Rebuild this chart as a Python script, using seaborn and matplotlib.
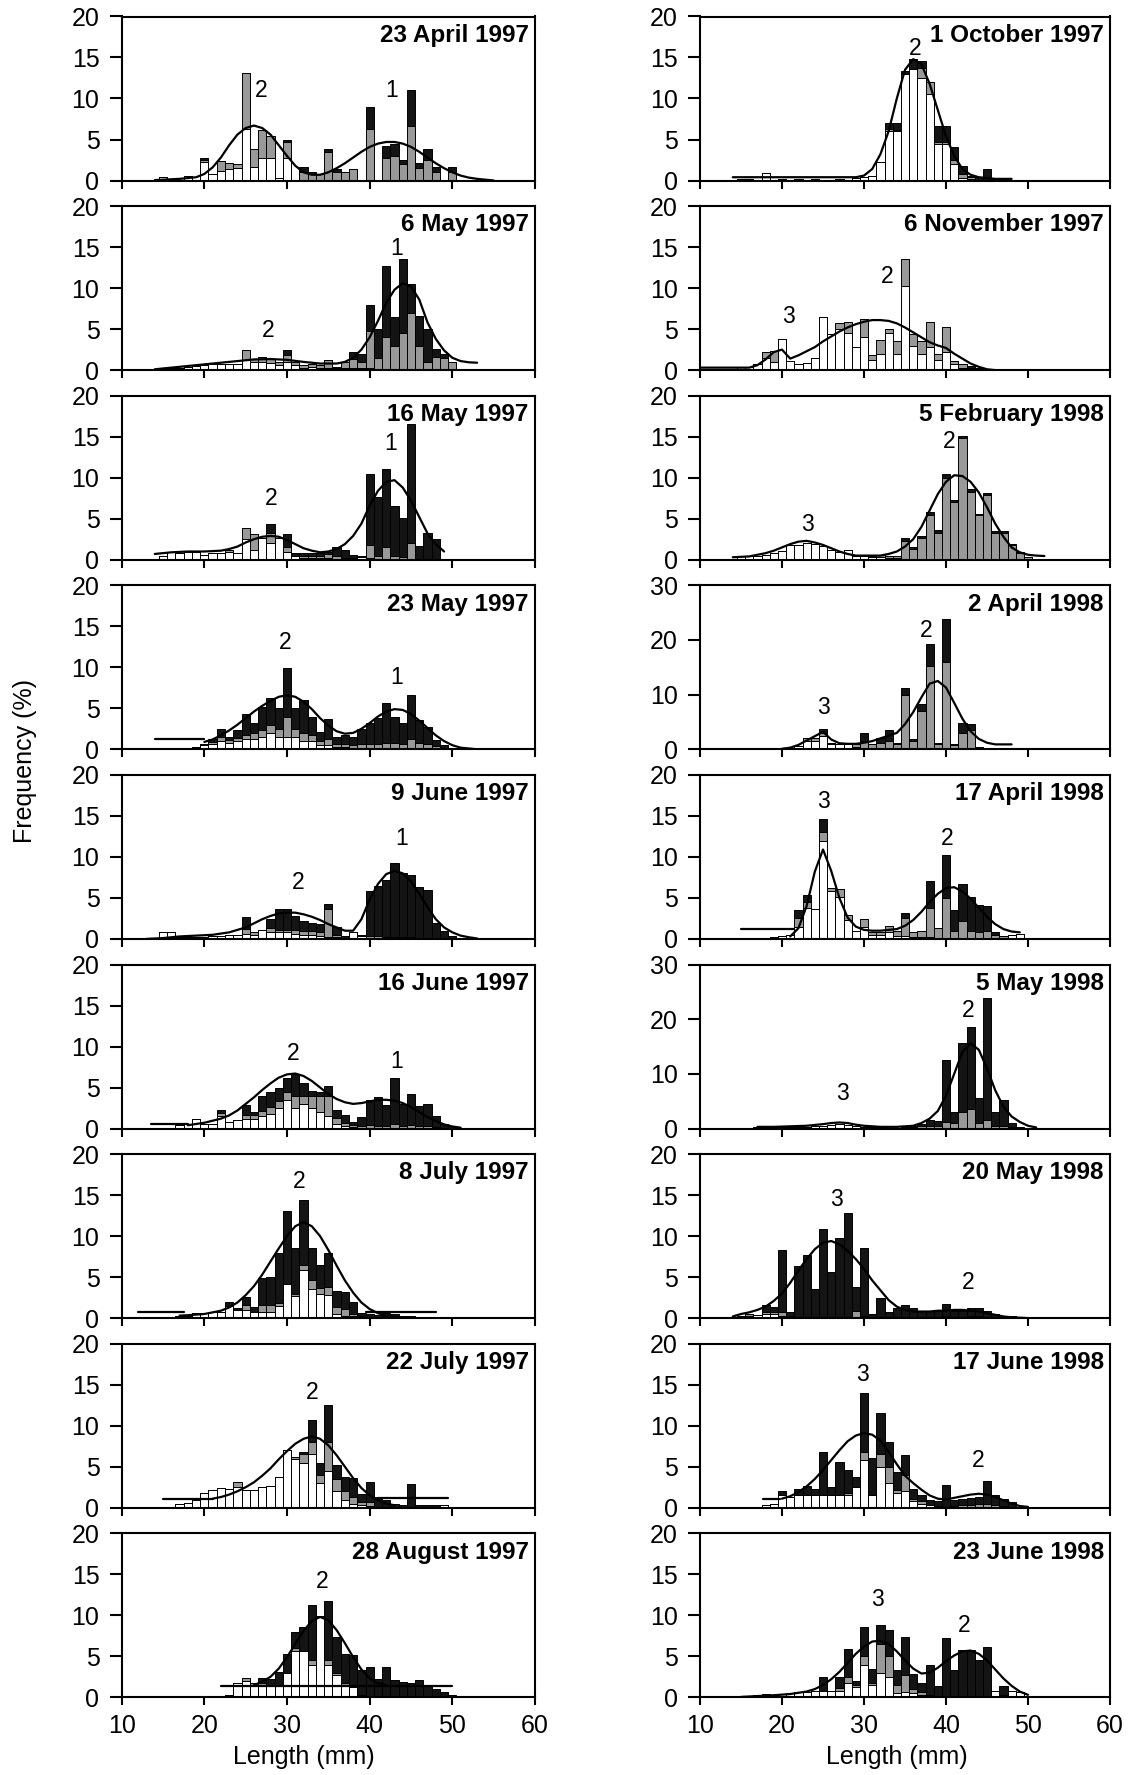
import matplotlib
matplotlib.use("Agg")
import matplotlib.pyplot as plt
import pandas as pd
import seaborn as sns

# ------------------------------------------------------------------
# DATA  (length class in mm -> frequency %)
# layers: white (bottom), grey (middle), black (top)
# ------------------------------------------------------------------
p01_title = "23 April 1997"
p01_ymax = 20
p01_white = {15: 0.4, 17: 0.3, 18: 0.6, 20: 2.2, 21: 0.8, 22: 1.2, 23: 1.4, 24: 1.5, 25: 6.3, 26: 1.6,
             27: 2.8, 28: 2.8, 29: 0.3, 30: 2.8}
p01_grey = {20: 0.3, 22: 1.2, 23: 0.7, 24: 0.5, 25: 6.8, 26: 2.3, 27: 3.4, 28: 2.6, 30: 1.9, 32: 1.0,
            33: 0.8, 34: 0.8, 35: 3.5, 36: 1.0, 37: 1.0, 38: 1.4, 40: 6.3, 42: 2.8, 43: 3.0, 44: 2.0,
            45: 6.7, 46: 1.5, 47: 2.5, 48: 1.0, 50: 1.0}
p01_black = {20: 0.3, 30: 0.3, 32: 0.7, 33: 0.2, 35: 0.3, 36: 0.4, 40: 2.7, 42: 1.4, 43: 1.5, 44: 0.5,
             45: 4.3, 46: 0.6, 47: 1.4, 48: 0.7, 50: 0.6}
p01_curve = {14: 0.05, 15: 0.1, 17: 0.2, 19: 0.4, 20: 0.8, 21: 1.6, 22: 2.8, 23: 4.3, 24: 5.6, 25: 6.4,
             26: 6.7, 27: 6.4, 28: 5.6, 29: 4.3, 30: 3.0, 31: 1.8, 32: 1.0, 33: 0.7, 34: 0.7, 35: 1.0,
             36: 1.5, 37: 2.1, 38: 2.8, 39: 3.5, 40: 4.1, 41: 4.5, 42: 4.7, 43: 4.7, 44: 4.5, 45: 4.1,
             46: 3.5, 47: 2.8, 48: 2.1, 49: 1.5, 50: 1.0, 51: 0.6, 52: 0.35, 53: 0.2, 54: 0.1, 55: 0.0}
p01_flat = []
p01_labels = [("2", 26.9, 11.0), ("1", 42.7, 11.0)]

p02_title = "6 May 1997"
p02_ymax = 20
p02_white = {15: 0.2, 16: 0.3, 17: 0.3, 18: 0.4, 19: 0.5, 20: 0.6, 21: 0.7, 22: 0.8, 23: 0.8, 24: 0.8,
             25: 1.2, 26: 1.0, 27: 1.0, 28: 0.9, 29: 0.6, 30: 1.0, 31: 0.6, 32: 0.3, 33: 0.4, 34: 0.3,
             35: 0.2, 36: 0.2, 37: 0.2, 38: 0.2, 39: 0.2, 40: 0.2}
p02_grey = {25: 1.2, 26: 0.3, 27: 0.6, 28: 0.5, 29: 0.4, 30: 0.8, 31: 0.4, 32: 0.3, 33: 0.4, 34: 0.3,
            35: 1.0, 36: 0.2, 37: 0.8, 38: 1.2, 39: 0.8, 40: 4.6, 41: 1.5, 42: 4.0, 43: 3.0, 44: 4.5,
            45: 7.0, 46: 3.0, 47: 1.0, 48: 1.6, 49: 1.5, 50: 1.0}
p02_black = {30: 0.6, 38: 0.8, 39: 1.0, 40: 3.2, 41: 3.5, 42: 8.7, 43: 3.5, 44: 9.1, 45: 3.5, 46: 3.6,
             47: 4.0, 48: 1.0, 49: 0.5}
p02_curve = {14: 0.1, 16: 0.3, 18: 0.5, 20: 0.7, 22: 0.9, 24: 1.1, 26: 1.3, 28: 1.35, 30: 1.25, 32: 1.0,
             34: 0.8, 36: 0.8, 37: 1.0, 38: 1.5, 39: 2.5, 40: 4.0, 41: 6.0, 42: 8.2, 43: 9.8, 44: 10.6,
             45: 10.2, 46: 8.6, 47: 5.8, 48: 3.8, 49: 2.4, 50: 1.5, 51: 1.1, 52: 0.95, 53: 0.9}
p02_flat = []
p02_labels = [("1", 43.3, 14.8), ("2", 27.7, 4.8)]

p03_title = "16 May 1997"
p03_ymax = 20
p03_white = {15: 0.5, 16: 1.0, 17: 0.8, 18: 1.0, 19: 1.0, 20: 0.6, 21: 0.8, 22: 0.8, 23: 1.0, 24: 0.8,
             25: 2.5, 26: 1.2, 27: 2.7, 28: 2.0, 29: 2.6, 30: 1.0, 31: 0.4, 32: 0.2, 33: 0.2, 34: 0.2,
             35: 0.2, 37: 0.2, 38: 0.2, 39: 0.3, 40: 0.2}
p03_grey = {23: 0.2, 25: 1.4, 26: 1.9, 28: 1.2, 30: 0.5, 32: 0.3, 33: 0.3, 34: 0.3, 35: 0.5, 36: 0.4,
            40: 1.6, 41: 0.5, 42: 1.5, 43: 0.4, 44: 0.3, 45: 2.0}
p03_black = {28: 1.2, 30: 1.6, 31: 0.4, 32: 0.3, 33: 0.3, 34: 0.3, 35: 0.2, 36: 1.2, 37: 1.0, 38: 0.4,
             39: 0.2, 40: 8.7, 41: 7.1, 42: 9.6, 43: 6.2, 44: 4.8, 45: 14.5, 46: 1.7, 47: 3.2, 48: 2.5}
p03_curve = {14: 0.7, 16: 0.9, 18: 1.0, 20: 1.0, 22: 1.1, 23: 1.3, 24: 1.6, 25: 2.1, 26: 2.5, 27: 2.8,
             28: 2.9, 29: 2.8, 30: 2.4, 31: 1.9, 32: 1.4, 33: 1.1, 34: 0.9, 35: 1.0, 36: 1.3, 37: 1.9,
             38: 2.9, 39: 4.4, 40: 6.6, 41: 8.4, 42: 9.5, 43: 9.7, 44: 8.8, 45: 7.2, 46: 5.2, 47: 3.2,
             48: 1.9, 49: 1.0}
p03_flat = []
p03_labels = [("1", 42.5, 14.2), ("2", 28.1, 7.5)]

p04_title = "23 May 1997"
p04_ymax = 20
p04_white = {17: 0.2, 18: 0.2, 19: 0.3, 20: 0.5, 21: 0.6, 22: 1.0, 23: 0.8, 24: 1.0, 25: 1.2, 26: 1.3,
             27: 1.5, 28: 2.0, 29: 1.5, 30: 1.5, 31: 1.5, 32: 1.0, 33: 1.0, 34: 0.5, 35: 0.5, 36: 0.3,
             37: 0.3}
p04_grey = {20: 0.2, 21: 0.3, 22: 0.5, 23: 0.3, 24: 0.4, 25: 0.6, 26: 0.7, 27: 0.8, 28: 1.0, 29: 1.0,
            30: 2.5, 31: 1.0, 32: 1.0, 33: 0.8, 34: 0.5, 35: 0.8, 36: 0.4, 37: 0.4, 38: 0.5, 39: 0.6,
            40: 0.6, 41: 0.6, 42: 0.8, 43: 0.8, 44: 0.6, 45: 1.2, 46: 0.8, 47: 0.7, 48: 0.4, 49: 0.2}
p04_black = {21: 0.4, 22: 1.0, 23: 0.4, 24: 0.9, 25: 2.5, 26: 1.2, 27: 2.8, 28: 3.3, 29: 2.5, 30: 5.9,
             31: 2.5, 32: 4.0, 33: 2.2, 34: 1.1, 35: 2.4, 36: 0.8, 37: 1.0, 38: 1.0, 39: 1.9, 40: 2.6,
             41: 3.2, 42: 4.8, 43: 3.2, 44: 2.6, 45: 5.4, 46: 2.8, 47: 2.0, 48: 0.7, 49: 0.3, 50: 0.2}
p04_curve = {20: 0.9, 21: 1.2, 22: 1.7, 23: 2.3, 24: 3.0, 25: 3.8, 26: 4.6, 27: 5.3, 28: 5.9, 29: 6.4,
             30: 6.6, 31: 6.4, 32: 5.8, 33: 4.9, 34: 3.8, 35: 2.9, 36: 2.2, 37: 1.9, 38: 2.0, 39: 2.5,
             40: 3.2, 41: 4.0, 42: 4.6, 43: 4.9, 44: 4.8, 45: 4.3, 46: 3.5, 47: 2.6, 48: 1.7, 49: 1.0,
             50: 0.5, 51: 0.2, 52: 0.1, 53: 0.0}
p04_flat = [(14, 20, 1.2)]
p04_labels = [("2", 29.8, 13.0), ("1", 43.3, 8.7)]

p05_title = "9 June 1997"
p05_ymax = 20
p05_white = {15: 0.9, 16: 0.9, 17: 0.2, 18: 0.2, 19: 0.2, 20: 0.2, 21: 0.3, 22: 0.4, 23: 0.5, 24: 0.5,
             25: 0.6, 26: 0.5, 27: 1.1, 28: 0.8, 29: 0.8, 30: 0.8, 31: 0.6, 32: 0.5, 33: 0.5, 34: 0.4,
             35: 0.2, 36: 0.2, 38: 0.9, 39: 0.3}
p05_grey = {25: 0.6, 26: 0.3, 28: 0.5, 29: 0.3, 30: 0.3, 31: 0.5, 32: 0.5, 33: 0.5, 34: 0.4, 35: 3.5,
            36: 0.3, 40: 0.3, 41: 0.3, 42: 0.2, 43: 0.2, 44: 0.2, 45: 0.2}
p05_black = {25: 1.5, 28: 1.1, 29: 2.5, 30: 2.6, 31: 1.7, 32: 1.2, 33: 1.0, 34: 1.0, 35: 0.6, 36: 1.0,
             37: 0.3, 39: 0.2, 40: 5.5, 41: 6.2, 42: 7.0, 43: 9.1, 44: 7.8, 45: 7.6, 46: 6.3, 47: 6.0,
             48: 2.0, 49: 1.0, 50: 0.3}
p05_curve = {13: 0.0, 15: 0.1, 17: 0.3, 19: 0.4, 21: 0.5, 23: 0.8, 25: 1.4, 26: 1.9, 27: 2.4, 28: 2.8,
             29: 3.1, 30: 3.2, 31: 3.2, 32: 3.0, 33: 2.7, 34: 2.3, 35: 1.8, 36: 1.4, 37: 1.0, 38: 1.0,
             39: 2.4, 40: 4.8, 41: 6.7, 42: 7.9, 43: 8.3, 44: 8.0, 45: 7.0, 46: 5.5, 47: 3.9, 48: 2.4,
             49: 1.4, 50: 0.8, 51: 0.4, 52: 0.2, 53: 0.05}
p05_flat = []
p05_labels = [("1", 43.9, 12.2), ("2", 31.3, 6.9)]

p06_title = "16 June 1997"
p06_ymax = 20
p06_white = {17: 0.4, 18: 0.6, 19: 1.1, 20: 0.5, 21: 0.5, 22: 1.5, 23: 0.8, 24: 1.0, 25: 1.2, 26: 1.2,
             27: 1.5, 28: 1.8, 29: 2.5, 30: 3.5, 31: 2.5, 32: 3.0, 33: 2.5, 34: 2.0, 35: 1.5, 36: 0.5,
             37: 0.3, 38: 0.2}
p06_grey = {22: 0.4, 25: 0.5, 26: 0.4, 27: 0.6, 28: 0.8, 29: 0.8, 30: 1.0, 31: 1.5, 32: 1.0, 33: 1.5,
            34: 2.0, 35: 2.5, 36: 0.8, 37: 0.4, 38: 0.2, 39: 0.3, 40: 0.4, 41: 0.3, 42: 0.3, 43: 0.5,
            44: 0.3, 45: 0.4, 46: 0.3, 47: 0.3, 48: 0.2}
p06_black = {22: 0.4, 25: 1.2, 26: 0.4, 27: 1.9, 28: 1.9, 29: 1.7, 30: 1.7, 31: 2.6, 32: 1.6, 33: 0.6,
             34: 0.4, 35: 1.2, 36: 0.9, 37: 0.9, 38: 0.4, 39: 1.1, 40: 3.1, 41: 3.6, 42: 2.6, 43: 5.6,
             44: 2.7, 45: 3.8, 46: 2.5, 47: 2.7, 48: 1.3, 49: 0.5, 50: 0.3}
p06_curve = {18: 0.4, 20: 0.7, 22: 1.2, 23: 1.6, 24: 2.2, 25: 3.0, 26: 3.8, 27: 4.7, 28: 5.5, 29: 6.2,
             30: 6.6, 31: 6.7, 32: 6.4, 33: 5.8, 34: 5.0, 35: 4.2, 36: 3.6, 37: 3.2, 38: 3.0, 39: 3.1,
             40: 3.3, 41: 3.5, 42: 3.5, 43: 3.4, 44: 3.1, 45: 2.6, 46: 2.0, 47: 1.4, 48: 0.9, 49: 0.5,
             50: 0.25, 51: 0.1}
p06_flat = [(13.5, 18, 0.6)]
p06_labels = [("2", 30.7, 9.2), ("1", 43.2, 8.2)]

p07_title = "8 July 1997"
p07_ymax = 20
p07_white = {17: 0.2, 18: 0.3, 19: 0.6, 20: 0.6, 21: 0.7, 22: 0.7, 23: 1.5, 24: 1.0, 25: 1.0, 26: 0.8,
             27: 0.8, 28: 0.8, 29: 1.5, 30: 4.2, 31: 2.7, 32: 5.9, 33: 3.6, 34: 2.9, 35: 2.8, 36: 0.5,
             37: 0.3, 38: 0.2}
p07_grey = {25: 0.6, 27: 0.8, 28: 0.8, 29: 0.3, 31: 0.3, 32: 0.6, 33: 1.0, 34: 0.8, 35: 1.0, 36: 0.8,
            37: 0.8, 38: 0.3, 39: 0.2, 42: 0.2}
p07_black = {23: 0.5, 24: 0.2, 25: 1.0, 26: 0.6, 27: 3.3, 28: 3.4, 29: 6.2, 30: 8.8, 31: 5.6, 32: 7.9,
             33: 3.9, 34: 2.8, 35: 4.1, 36: 2.0, 37: 2.1, 38: 1.5, 39: 0.4, 40: 0.5, 41: 0.4, 42: 0.4,
             43: 0.5, 44: 0.3, 45: 0.2}
p07_curve = {17: 0.3, 18: 0.35, 20: 0.5, 22: 0.9, 23: 1.3, 24: 1.9, 25: 2.8, 26: 3.9, 27: 5.3, 28: 6.9,
             29: 8.5, 30: 10.0, 31: 11.2, 32: 11.7, 33: 11.2, 34: 10.0, 35: 8.3, 36: 6.4, 37: 4.6,
             38: 3.1, 39: 1.9, 40: 1.1, 41: 0.6, 42: 0.3, 43: 0.15, 44: 0.05}
p07_flat = [(12, 17.5, 0.7), (39.5, 48, 0.8)]
p07_labels = [("2", 31.5, 16.7)]

p08_title = "22 July 1997"
p08_ymax = 20
p08_white = {17: 0.4, 18: 0.6, 19: 1.0, 20: 1.8, 21: 2.1, 22: 2.4, 23: 2.3, 24: 2.5, 25: 2.1, 26: 2.1,
             27: 2.5, 28: 2.6, 29: 3.8, 30: 7.0, 31: 6.0, 32: 5.5, 33: 6.5, 34: 3.0, 35: 4.5, 36: 2.0,
             37: 1.0, 38: 0.5, 39: 0.3, 40: 0.2, 49: 0.3}
p08_grey = {24: 0.6, 31: 0.2, 32: 1.0, 33: 1.5, 34: 1.0, 35: 3.5, 36: 1.5, 37: 1.0, 38: 0.8, 39: 0.4,
            40: 0.5}
p08_black = {32: 0.3, 33: 2.7, 34: 1.4, 35: 4.5, 36: 1.7, 37: 1.8, 38: 2.3, 39: 1.0, 40: 2.4, 41: 1.3,
             42: 0.9, 43: 0.5, 44: 0.3, 45: 2.9, 46: 0.3, 47: 0.3, 48: 0.3}
p08_curve = {21: 1.1, 22: 1.3, 23: 1.6, 24: 2.0, 25: 2.5, 26: 3.1, 27: 3.9, 28: 4.8, 29: 5.9, 30: 6.9,
             31: 7.8, 32: 8.4, 33: 8.7, 34: 8.4, 35: 7.6, 36: 6.4, 37: 5.0, 38: 3.6, 39: 2.4, 40: 1.5,
             41: 0.9, 42: 0.5, 43: 0.3}
p08_flat = [(15, 21, 1.1), (41, 49.5, 1.2)]
p08_labels = [("2", 33.0, 14.0)]

p09_title = "28 August 1997"
p09_ymax = 20
p09_white = {22: 0.2, 23: 0.3, 24: 1.7, 25: 2.0, 26: 1.5, 27: 1.5, 28: 1.4, 29: 1.5, 30: 3.0, 31: 5.7,
             32: 5.7, 33: 4.0, 34: 9.9, 35: 4.0, 36: 2.7, 37: 1.5, 38: 1.2, 39: 0.3}
p09_grey = {25: 0.3, 26: 0.3, 27: 0.3, 31: 0.3, 33: 0.5, 35: 0.5, 36: 0.3, 37: 0.3, 40: 0.2, 42: 0.2,
            44: 0.2, 46: 0.2}
p09_black = {27: 0.6, 28: 0.8, 29: 1.6, 30: 2.3, 31: 2.0, 32: 2.9, 33: 6.7, 35: 7.3, 36: 4.3, 37: 3.5,
             38: 4.0, 39: 3.0, 40: 3.5, 41: 2.2, 42: 3.5, 43: 2.1, 44: 1.7, 45: 1.8, 46: 1.9, 47: 1.4,
             48: 1.0, 49: 0.6, 50: 0.3}
p09_curve = {26: 1.5, 27: 1.9, 28: 2.5, 29: 3.5, 30: 4.9, 31: 6.5, 32: 8.1, 33: 9.3, 34: 9.8, 35: 9.4,
             36: 8.2, 37: 6.6, 38: 4.9, 39: 3.4, 40: 2.3, 41: 1.7, 42: 1.5}
p09_flat = [(22, 50, 1.4)]
p09_labels = [("2", 34.2, 14.1)]

p10_title = "1 October 1997"
p10_ymax = 20
p10_white = {15: 0.2, 16: 0.2, 18: 0.9, 20: 0.2, 22: 0.2, 24: 0.2, 27: 0.2, 29: 0.3, 30: 0.4, 31: 0.6,
             32: 2.2, 33: 6.0, 34: 6.0, 35: 13.0, 36: 13.6, 37: 12.5, 38: 10.5, 39: 4.5, 40: 4.5,
             41: 2.0, 42: 0.3, 43: 0.2}
p10_grey = {33: 0.3, 34: 0.2, 37: 1.2, 38: 1.5, 39: 0.2, 40: 0.2, 41: 0.5, 42: 0.5, 43: 0.2, 44: 0.1,
            46: 0.2, 47: 0.2}
p10_black = {33: 0.7, 34: 0.8, 35: 0.4, 36: 1.2, 37: 0.9, 39: 2.0, 40: 2.0, 41: 1.6, 42: 1.0, 43: 0.2,
             44: 0.3, 45: 1.4}
p10_curve = {14: 0.4, 29: 0.4, 30: 0.6, 31: 1.4, 32: 3.2, 33: 6.0, 34: 10.0, 35: 13.5, 36: 14.8,
             37: 14.2, 38: 11.8, 39: 8.6, 40: 5.4, 41: 3.0, 42: 1.4, 43: 0.7, 44: 0.4, 45: 0.3, 46: 0.2,
             48: 0.2}
p10_flat = []
p10_labels = [("2", 36.2, 16.1)]

p11_title = "6 November 1997"
p11_ymax = 20
p11_white = {15: 0.4, 16: 0.4, 17: 0.8, 18: 1.5, 19: 1.0, 20: 3.8, 21: 1.1, 22: 0.8, 23: 0.9, 24: 1.5,
             25: 6.5, 26: 4.4, 27: 5.0, 28: 4.5, 29: 2.8, 30: 4.0, 31: 1.2, 32: 2.0, 33: 4.5, 34: 2.0,
             35: 10.2, 36: 3.0, 37: 2.0, 38: 2.8, 39: 1.2, 40: 2.2, 41: 0.8, 42: 0.3}
p11_grey = {18: 0.7, 19: 1.3, 27: 0.7, 28: 1.4, 30: 2.2, 31: 0.6, 32: 1.7, 33: 0.5, 34: 1.6, 35: 3.4,
            36: 1.4, 37: 1.6, 38: 3.1, 39: 0.8, 40: 3.0, 41: 0.3, 42: 0.4, 43: 0.3}
p11_black = {43: 0.2, 44: 0.2}
p11_curve = {10: 0.3, 16: 0.3, 17: 0.6, 18: 1.3, 19: 2.2, 20: 2.5, 21: 1.4, 22: 1.8, 23: 2.3, 24: 2.8,
             25: 3.5, 26: 4.1, 27: 4.7, 28: 5.2, 29: 5.6, 30: 5.9, 31: 6.1, 32: 6.1, 33: 6.0, 34: 5.7,
             35: 5.2, 36: 4.6, 37: 4.0, 38: 3.4, 39: 3.0, 40: 2.7, 41: 2.0, 42: 1.4, 43: 0.8, 44: 0.4,
             45: 0.1, 46: 0.0}
p11_flat = []
p11_labels = [("2", 32.8, 11.4), ("3", 20.8, 6.5)]

p12_title = "5 February 1998"
p12_ymax = 20
p12_white = {15: 0.4, 16: 0.4, 17: 0.4, 18: 0.6, 19: 0.8, 20: 1.1, 21: 1.8, 22: 1.8, 23: 2.0, 24: 1.9,
             25: 1.7, 26: 1.2, 27: 1.0, 28: 1.2, 29: 0.4, 30: 0.4, 31: 0.3, 32: 0.3, 33: 0.2, 34: 0.2}
p12_grey = {29: 0.1, 30: 0.1, 31: 0.2, 32: 0.3, 33: 0.2, 34: 0.2, 35: 2.3, 36: 1.3, 37: 2.6, 38: 5.5,
            39: 3.3, 40: 10.0, 41: 7.0, 42: 14.8, 43: 8.3, 44: 5.4, 45: 7.9, 46: 3.3, 47: 3.3, 48: 1.8,
            49: 0.8, 50: 0.3}
p12_black = {35: 0.4, 36: 0.3, 37: 0.3, 38: 0.3, 39: 0.3, 40: 0.4, 41: 0.3, 42: 0.3, 43: 0.3, 44: 0.2,
             45: 0.2, 46: 0.2, 47: 0.2, 48: 0.1, 49: 0.1}
p12_curve = {14: 0.3, 16: 0.4, 18: 0.8, 19: 1.1, 20: 1.5, 21: 1.9, 22: 2.2, 23: 2.3, 24: 2.1, 25: 1.8,
             26: 1.4, 27: 1.0, 28: 0.7, 29: 0.5, 30: 0.5, 31: 0.5, 32: 0.5, 33: 0.7, 34: 1.0, 35: 1.6,
             36: 2.5, 37: 4.0, 38: 6.0, 39: 8.0, 40: 9.5, 41: 10.3, 42: 10.2, 43: 9.5, 44: 8.2, 45: 6.4,
             46: 4.4, 47: 2.8, 48: 1.5, 49: 0.9, 50: 0.6, 51: 0.5, 52: 0.45}
p12_flat = []
p12_labels = [("2", 40.4, 14.4), ("3", 23.1, 4.3)]

p13_title = "2 April 1998"
p13_ymax = 30
p13_white = {20: 0.2, 21: 0.3, 22: 0.6, 23: 1.5, 24: 1.5, 25: 2.5, 26: 1.0, 27: 1.0, 28: 1.0, 29: 0.5,
             30: 0.3, 31: 0.3, 32: 0.3}
p13_grey = {23: 0.5, 24: 0.5, 25: 0.5, 26: 0.2, 28: 0.2, 29: 0.4, 30: 1.2, 31: 0.6, 32: 0.9, 33: 1.5,
            34: 1.0, 35: 10.0, 36: 1.5, 37: 7.0, 38: 15.2, 39: 1.0, 40: 16.0, 41: 0.7, 42: 3.0, 43: 3.5,
            44: 0.3}
p13_black = {25: 0.7, 30: 1.5, 32: 0.9, 33: 2.0, 34: 0.2, 35: 1.3, 36: 0.3, 37: 1.2, 38: 4.1, 39: 0.2,
             40: 7.8, 41: 0.2, 42: 1.9, 43: 1.1, 44: 0.2}
p13_curve = {20: 0.1, 21: 0.3, 22: 0.8, 23: 1.6, 24: 2.4, 25: 3.2, 26: 1.8, 27: 1.1, 28: 1.0, 29: 1.0,
             30: 1.2, 31: 1.5, 32: 2.0, 33: 2.5, 34: 3.0, 35: 4.6, 36: 6.8, 37: 9.5, 38: 12.0, 39: 12.5,
             40: 11.3, 41: 8.5, 42: 5.6, 43: 3.3, 44: 1.9, 45: 1.2, 46: 0.9, 48: 0.9}
p13_flat = []
p13_labels = [("2", 37.6, 21.8), ("3", 25.0, 7.6)]

p14_title = "17 April 1998"
p14_ymax = 20
p14_white = {19: 0.2, 20: 0.4, 21: 0.5, 22: 1.5, 23: 3.8, 24: 3.7, 25: 12.0, 26: 5.9, 27: 5.1, 28: 2.3,
             29: 1.0, 30: 1.5, 31: 0.5, 32: 0.5, 33: 0.8, 34: 0.3, 35: 0.3, 36: 0.2, 37: 0.2, 38: 0.2,
             48: 0.5, 49: 0.6}
p14_grey = {22: 1.0, 23: 0.7, 25: 1.0, 26: 0.3, 27: 1.0, 28: 0.6, 30: 0.9, 31: 0.3, 32: 0.4, 33: 0.8,
            34: 0.7, 35: 2.3, 36: 0.6, 37: 0.8, 38: 3.6, 39: 1.3, 40: 5.0, 41: 1.0, 42: 2.2, 43: 1.0,
            44: 0.8, 45: 1.0, 46: 0.5, 47: 0.3}
p14_black = {22: 1.0, 23: 0.8, 25: 1.6, 35: 0.6, 38: 3.3, 40: 5.2, 41: 2.5, 42: 4.5, 43: 4.1, 44: 3.3,
             45: 3.0, 46: 0.3}
p14_curve = {21: 0.3, 22: 1.3, 23: 4.0, 24: 8.2, 25: 10.9, 26: 8.3, 27: 5.0, 28: 2.6, 29: 1.5, 30: 1.1,
             31: 1.0, 32: 1.0, 33: 1.1, 34: 1.2, 35: 1.6, 36: 2.3, 37: 3.3, 38: 4.5, 39: 5.5, 40: 6.2,
             41: 6.3, 42: 5.8, 43: 4.9, 44: 3.8, 45: 2.7, 46: 1.8, 47: 1.2, 48: 0.9, 49: 0.8}
p14_flat = [(15, 21.5, 1.2)]
p14_labels = [("3", 25.1, 16.7), ("2", 40.1, 12.2)]

p15_title = "5 May 1998"
p15_ymax = 30
p15_white = {17: 0.2, 18: 0.2, 19: 0.2, 20: 0.2, 21: 0.3, 22: 0.3, 23: 0.3, 24: 0.4, 25: 0.5, 26: 0.6,
             27: 0.8, 28: 0.6, 29: 0.5, 30: 0.3, 31: 0.2, 32: 0.2, 33: 0.1}
p15_grey = {35: 0.3, 36: 0.3, 37: 0.5, 38: 0.5, 39: 0.5, 40: 1.2, 41: 1.0, 42: 3.0, 43: 3.5, 44: 1.0,
            45: 1.5, 46: 0.5, 47: 0.5, 48: 0.3}
p15_black = {36: 0.2, 37: 0.4, 38: 1.0, 39: 0.8, 40: 11.4, 41: 2.0, 42: 12.6, 43: 15.0, 44: 4.5,
             45: 22.3, 46: 2.6, 47: 4.7, 48: 0.7, 49: 0.3}
p15_curve = {17: 0.3, 19: 0.3, 21: 0.4, 23: 0.5, 25: 0.8, 26: 1.0, 27: 1.1, 28: 1.0, 29: 0.7, 30: 0.5,
             32: 0.3, 34: 0.3, 36: 0.5, 37: 1.0, 38: 1.8, 39: 3.2, 40: 6.0, 41: 10.0, 42: 14.0, 43: 15.6,
             44: 14.4, 45: 11.0, 46: 7.0, 47: 4.0, 48: 2.2, 49: 1.2, 50: 0.5, 51: 0.2}
p15_flat = []
p15_labels = [("2", 42.7, 21.5), ("3", 27.4, 6.4)]

p16_title = "20 May 1998"
p16_ymax = 20
p16_white = {15: 0.3, 16: 0.3, 17: 0.4, 18: 0.5, 19: 0.5, 20: 0.3, 21: 0.2}
p16_grey = {16: 0.2, 18: 0.3, 19: 0.3, 20: 0.5, 29: 0.9, 30: 0.3, 40: 0.2, 43: 0.3, 44: 0.3}
p16_black = {18: 0.8, 19: 0.5, 20: 7.5, 21: 0.5, 22: 6.4, 23: 7.7, 24: 3.6, 25: 10.9, 26: 5.6, 27: 9.8,
             28: 12.8, 29: 2.9, 30: 8.2, 31: 0.5, 32: 2.4, 33: 0.7, 34: 1.2, 35: 1.6, 36: 1.2, 37: 0.9,
             38: 0.9, 39: 0.9, 40: 1.5, 41: 0.9, 42: 0.9, 43: 0.9, 44: 0.9, 45: 0.9, 46: 0.5, 47: 0.3,
             48: 0.2}
p16_curve = {14: 0.2, 15: 0.5, 16: 0.7, 17: 1.0, 18: 1.4, 19: 2.1, 20: 3.0, 21: 4.3, 22: 5.8, 23: 7.2,
             24: 8.4, 25: 9.2, 26: 9.4, 27: 9.0, 28: 8.2, 29: 7.2, 30: 6.0, 31: 4.6, 32: 3.4, 33: 2.2,
             34: 1.4, 35: 1.0, 36: 0.8, 37: 0.8, 38: 0.8, 39: 0.9, 40: 0.9, 41: 1.0, 42: 1.0, 43: 0.9,
             44: 0.8, 45: 0.6, 46: 0.4, 47: 0.2, 48: 0.1, 49: 0.05, 50: 0.0}
p16_flat = []
p16_labels = [("3", 26.6, 14.5), ("2", 42.7, 4.4)]

p17_title = "17 June 1998"
p17_ymax = 20
p17_white = {18: 0.3, 19: 0.5, 20: 1.6, 21: 1.3, 22: 1.5, 23: 1.5, 24: 1.5, 25: 1.5, 26: 1.5, 27: 1.5,
             28: 1.5, 29: 2.5, 30: 5.8, 31: 1.5, 32: 5.0, 33: 3.0, 34: 1.8, 35: 2.0, 36: 0.8, 37: 0.5,
             38: 0.3}
p17_grey = {28: 0.3, 30: 1.0, 32: 1.5, 33: 2.0, 34: 0.3, 35: 2.0, 36: 0.3, 37: 0.3, 39: 0.2, 41: 0.2,
            42: 0.3, 43: 0.3, 44: 0.4, 45: 0.4, 46: 0.3, 47: 0.2}
p17_black = {20: 0.4, 22: 0.8, 23: 1.2, 24: 0.8, 25: 5.3, 26: 1.0, 27: 4.1, 28: 2.8, 29: 1.3, 30: 7.2,
             31: 4.5, 32: 5.0, 33: 3.0, 34: 2.2, 35: 2.4, 36: 1.2, 37: 0.7, 38: 0.6, 39: 0.6, 40: 2.8,
             41: 0.7, 42: 0.8, 43: 0.9, 44: 0.9, 45: 2.8, 46: 1.2, 47: 0.9, 48: 0.7}
p17_curve = {20: 1.1, 21: 1.4, 22: 1.9, 23: 2.6, 24: 3.5, 25: 4.6, 26: 5.8, 27: 7.0, 28: 8.1, 29: 8.8,
             30: 9.1, 31: 8.9, 32: 8.2, 33: 6.8, 34: 5.3, 35: 3.9, 36: 3.0, 37: 2.2, 38: 1.5, 39: 1.1,
             40: 1.0, 41: 1.2, 42: 1.4, 43: 1.6, 44: 1.7, 45: 1.6, 46: 1.3, 47: 0.9, 48: 0.5, 49: 0.2,
             50: 0.1}
p17_flat = [(17.7, 19.8, 1.1)]
p17_labels = [("3", 29.8, 16.2), ("2", 43.9, 5.8)]

p18_title = "23 June 1998"
p18_ymax = 20
p18_white = {17: 0.3, 18: 0.4, 19: 0.3, 20: 0.4, 21: 0.5, 22: 0.6, 23: 0.6, 24: 0.8, 25: 0.8, 26: 0.8,
             27: 0.8, 28: 1.8, 29: 1.2, 30: 4.0, 31: 1.5, 32: 3.0, 33: 2.5, 34: 0.5, 35: 0.7, 36: 0.5,
             37: 0.3, 46: 0.8, 47: 0.3, 48: 0.8, 49: 0.6}
p18_grey = {27: 0.3, 28: 0.7, 29: 0.3, 30: 1.0, 31: 0.3, 32: 3.5, 33: 2.5, 34: 1.0, 35: 2.0, 36: 0.5,
            37: 0.3, 38: 0.3, 40: 0.2, 42: 0.2, 43: 0.2}
p18_black = {25: 1.7, 27: 1.4, 28: 3.4, 29: 0.5, 30: 3.6, 31: 1.7, 32: 2.3, 33: 3.2, 34: 1.8, 35: 4.7,
             36: 1.9, 37: 1.2, 38: 3.6, 39: 1.4, 40: 7.0, 41: 3.3, 42: 5.6, 43: 5.6, 44: 4.5, 45: 6.1,
             47: 1.1}
p18_curve = {15: 0.05, 17: 0.15, 19: 0.25, 21: 0.4, 23: 0.7, 24: 1.0, 25: 1.5, 26: 2.2, 27: 3.1, 28: 4.2,
             29: 5.3, 30: 6.2, 31: 6.8, 32: 6.9, 33: 6.5, 34: 5.6, 35: 4.5, 36: 3.5, 37: 2.9, 38: 3.0,
             39: 3.6, 40: 4.4, 41: 5.1, 42: 5.6, 43: 5.7, 44: 5.3, 45: 4.5, 46: 3.4, 47: 2.3, 48: 1.4,
             49: 0.7, 50: 0.3}
p18_flat = []
p18_labels = [("3", 31.7, 11.9), ("2", 42.2, 8.7)]

x_ticks = [10, 20, 30, 40, 50, 60]

left_column = [
    (p01_title, p01_ymax, p01_white, p01_grey, p01_black, p01_curve, p01_flat, p01_labels),
    (p02_title, p02_ymax, p02_white, p02_grey, p02_black, p02_curve, p02_flat, p02_labels),
    (p03_title, p03_ymax, p03_white, p03_grey, p03_black, p03_curve, p03_flat, p03_labels),
    (p04_title, p04_ymax, p04_white, p04_grey, p04_black, p04_curve, p04_flat, p04_labels),
    (p05_title, p05_ymax, p05_white, p05_grey, p05_black, p05_curve, p05_flat, p05_labels),
    (p06_title, p06_ymax, p06_white, p06_grey, p06_black, p06_curve, p06_flat, p06_labels),
    (p07_title, p07_ymax, p07_white, p07_grey, p07_black, p07_curve, p07_flat, p07_labels),
    (p08_title, p08_ymax, p08_white, p08_grey, p08_black, p08_curve, p08_flat, p08_labels),
    (p09_title, p09_ymax, p09_white, p09_grey, p09_black, p09_curve, p09_flat, p09_labels),
]
right_column = [
    (p10_title, p10_ymax, p10_white, p10_grey, p10_black, p10_curve, p10_flat, p10_labels),
    (p11_title, p11_ymax, p11_white, p11_grey, p11_black, p11_curve, p11_flat, p11_labels),
    (p12_title, p12_ymax, p12_white, p12_grey, p12_black, p12_curve, p12_flat, p12_labels),
    (p13_title, p13_ymax, p13_white, p13_grey, p13_black, p13_curve, p13_flat, p13_labels),
    (p14_title, p14_ymax, p14_white, p14_grey, p14_black, p14_curve, p14_flat, p14_labels),
    (p15_title, p15_ymax, p15_white, p15_grey, p15_black, p15_curve, p15_flat, p15_labels),
    (p16_title, p16_ymax, p16_white, p16_grey, p16_black, p16_curve, p16_flat, p16_labels),
    (p17_title, p17_ymax, p17_white, p17_grey, p17_black, p17_curve, p17_flat, p17_labels),
    (p18_title, p18_ymax, p18_white, p18_grey, p18_black, p18_curve, p18_flat, p18_labels),
]

# ------------------------------------------------------------------
# STYLE
# ------------------------------------------------------------------
sns.set_theme(style="ticks")
plt.rcParams["font.family"] = ["Liberation Sans", "DejaVu Sans"]
plt.rcParams["axes.edgecolor"] = "black"
plt.rcParams["xtick.color"] = "black"
plt.rcParams["ytick.color"] = "black"
plt.rcParams["text.color"] = "black"

PALETTE = {"white": "#ffffff", "grey": "#999999", "black": "#141414"}
HUE_ORDER = ["black", "grey", "white"]  # first level drawn on top

W, H = 1133, 1775
fig = plt.figure(figsize=(W / 100, H / 100), dpi=100)

col_left_px = [121.7, 700.0]
col_width_px = [413.3, 410.0]
row_top0 = 16.5
row_pitch = 189.6
ax_h = 164.0


def layer_frame(white, grey, black):
    rows = []
    for part, d in (("white", white), ("grey", grey), ("black", black)):
        for length, freq in d.items():
            rows.append({"length": length, "part": part, "freq": freq})
    return pd.DataFrame(rows)


def draw_panel(ax, spec, bottom):
    title, ymax, white, grey, black, curve, flats, labels = spec
    df = layer_frame(white, grey, black)
    sns.histplot(data=df, x="length", weights="freq", hue="part", hue_order=HUE_ORDER,
                 multiple="stack", discrete=True, shrink=1.0, palette=PALETTE,
                 edgecolor="black", linewidth=0.7, alpha=1.0, legend=False, ax=ax)
    sns.lineplot(x=list(curve.keys()), y=list(curve.values()), ax=ax, color="black",
                 linewidth=1.6, estimator=None, sort=False)
    for x0, x1, yv in flats:
        sns.lineplot(x=[x0, x1], y=[yv, yv], ax=ax, color="black", linewidth=1.6,
                     estimator=None, sort=False)
    for txt, lx, ly in labels:
        ax.text(lx, ly, txt, ha="center", va="center", fontsize=16.5)
    ax.text(0.985, 0.955, title, transform=ax.transAxes, ha="right", va="top",
            fontsize=17.5, fontweight="bold")
    ax.set_xlim(10, 60)
    ax.set_ylim(0, ymax)
    ax.set_xticks(x_ticks)
    step = 5 if ymax == 20 else 10
    ax.set_yticks(list(range(0, ymax + 1, step)))
    ax.set_xlabel("")
    ax.set_ylabel("")
    if not bottom:
        ax.set_xticklabels([])
    for s in ax.spines.values():
        s.set_visible(True)
        s.set_linewidth(1.5)
        s.set_color("black")
    ax.tick_params(axis="y", direction="out", length=9, width=1.5, labelsize=18, pad=7)
    ax.tick_params(axis="x", direction="out", length=6, width=1.5, labelsize=18, pad=6)
    ax.set_facecolor("white")


for c, column in enumerate([left_column, right_column]):
    for r, spec in enumerate(column):
        top = row_top0 + r * row_pitch
        rect = [col_left_px[c] / W, 1 - (top + ax_h) / H, col_width_px[c] / W, ax_h / H]
        ax = fig.add_axes(rect)
        draw_panel(ax, spec, bottom=(r == len(column) - 1))

fig.text(25 / W, 1 - 761 / H, "Frequency (%)", rotation=90, ha="center", va="center", fontsize=18)
fig.text(304 / W, 1 - 1757 / H, "Length (mm)", ha="center", va="center", fontsize=18)
fig.text(897 / W, 1 - 1757 / H, "Length (mm)", ha="center", va="center", fontsize=18)

fig.savefig("out.png", dpi=100, facecolor="white")
